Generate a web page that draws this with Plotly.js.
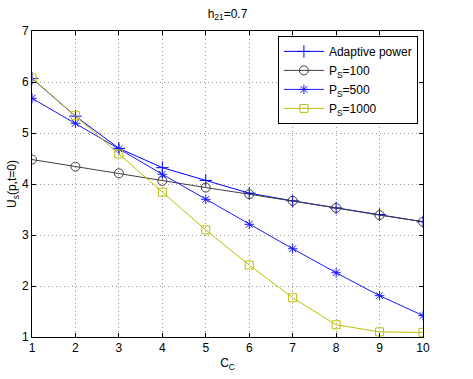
<!DOCTYPE html>
<html><head><meta charset="utf-8">
<script src="https://cdn.plot.ly/plotly-3.0.1.min.js"></script>
<style>body{margin:0;background:#fff}#c{width:473px;height:379px}</style>
</head><body><div id="c"></div>
<script>
const cc = [1,2,3,4,5,6,7,8,9,10];
const adaptive = [6.07,5.33,4.70,4.32,4.07,3.82,3.67,3.53,3.40,3.26];
const ps100 = [4.48,4.34,4.21,4.06,3.93,3.80,3.67,3.53,3.39,3.26];
const ps500 = [5.68,5.19,4.69,4.19,3.70,3.21,2.73,2.26,1.81,1.42];
const ps1000 = [6.08,5.34,4.59,3.84,3.10,2.41,1.77,1.24,1.10,1.09];
const names = ['Adaptive power','P<sub>S</sub>=100','P<sub>S</sub>=500','P<sub>S</sub>=1000'];

const fam = 'Liberation Sans, Arial, sans-serif';
const font = {family:fam, size:12, color:'#000'};
function tr(y, name, color, sym, size){
  return {x:cc, y:y, name:name, type:'scatter', mode:'lines+markers',
    line:{color:color, width:1},
    marker:{symbol:sym, size:size, color:color, line:{color:color, width:1}}};
}
const data = [
  tr(ps100, names[1], '#404040', 'circle-open', 9),
  tr(ps500, names[2], '#1a1aff', 'asterisk-open', 8),
  tr(ps1000, names[3], '#bfbf00', 'square-open', 8),
  tr(adaptive, names[0], '#0000ff', 'cross-thin-open', 9)
];
const order = [3,0,1,2];
const traces = order.map(i=>data[i]);
const grid = {showgrid:true, gridcolor:'#999', griddash:'1px,3px', gridwidth:1};
const layout = {
  width:473, height:379,
  margin:{l:32, r:50, t:31, b:42},
  paper_bgcolor:'#fff', plot_bgcolor:'#fff',
  font:font,
  showlegend:true,
  title:{text:'h<sub>21</sub>=0.7', font:{family:fam, size:12}, x:0.5, xanchor:'center', y:0.975, yanchor:'top', xref:'paper'},
  xaxis:Object.assign({range:[1,10], tickvals:cc, ticks:'inside', ticklen:4, tickcolor:'#000',
    showline:true, linecolor:'#000', linewidth:1, mirror:'ticks', zeroline:false,
    tickfont:{family:fam, size:12},
    title:{text:'C<sub>C</sub>', font:{family:fam, size:12}, standoff:4}}, grid),
  yaxis:Object.assign({range:[1,7], tickvals:[1,2,3,4,5,6,7], ticks:'inside', ticklen:4, tickcolor:'#000',
    showline:true, linecolor:'#000', linewidth:1, mirror:'ticks', zeroline:false,
    tickfont:{family:fam, size:12},
    title:{text:'U<sub>s</sub>(p,t=0)', font:{family:fam, size:12}, standoff:2}}, grid),
  legend:{x:0.987, y:0.984, xanchor:'right', yanchor:'top', bgcolor:'#fff',
    bordercolor:'#000', borderwidth:1, font:{family:fam, size:12},
    tracegroupgap:0, itemwidth:40, traceorder:'normal'}
};
Plotly.newPlot('c', traces, layout, {displayModeBar:false, staticPlot:true});
</script></body></html>
